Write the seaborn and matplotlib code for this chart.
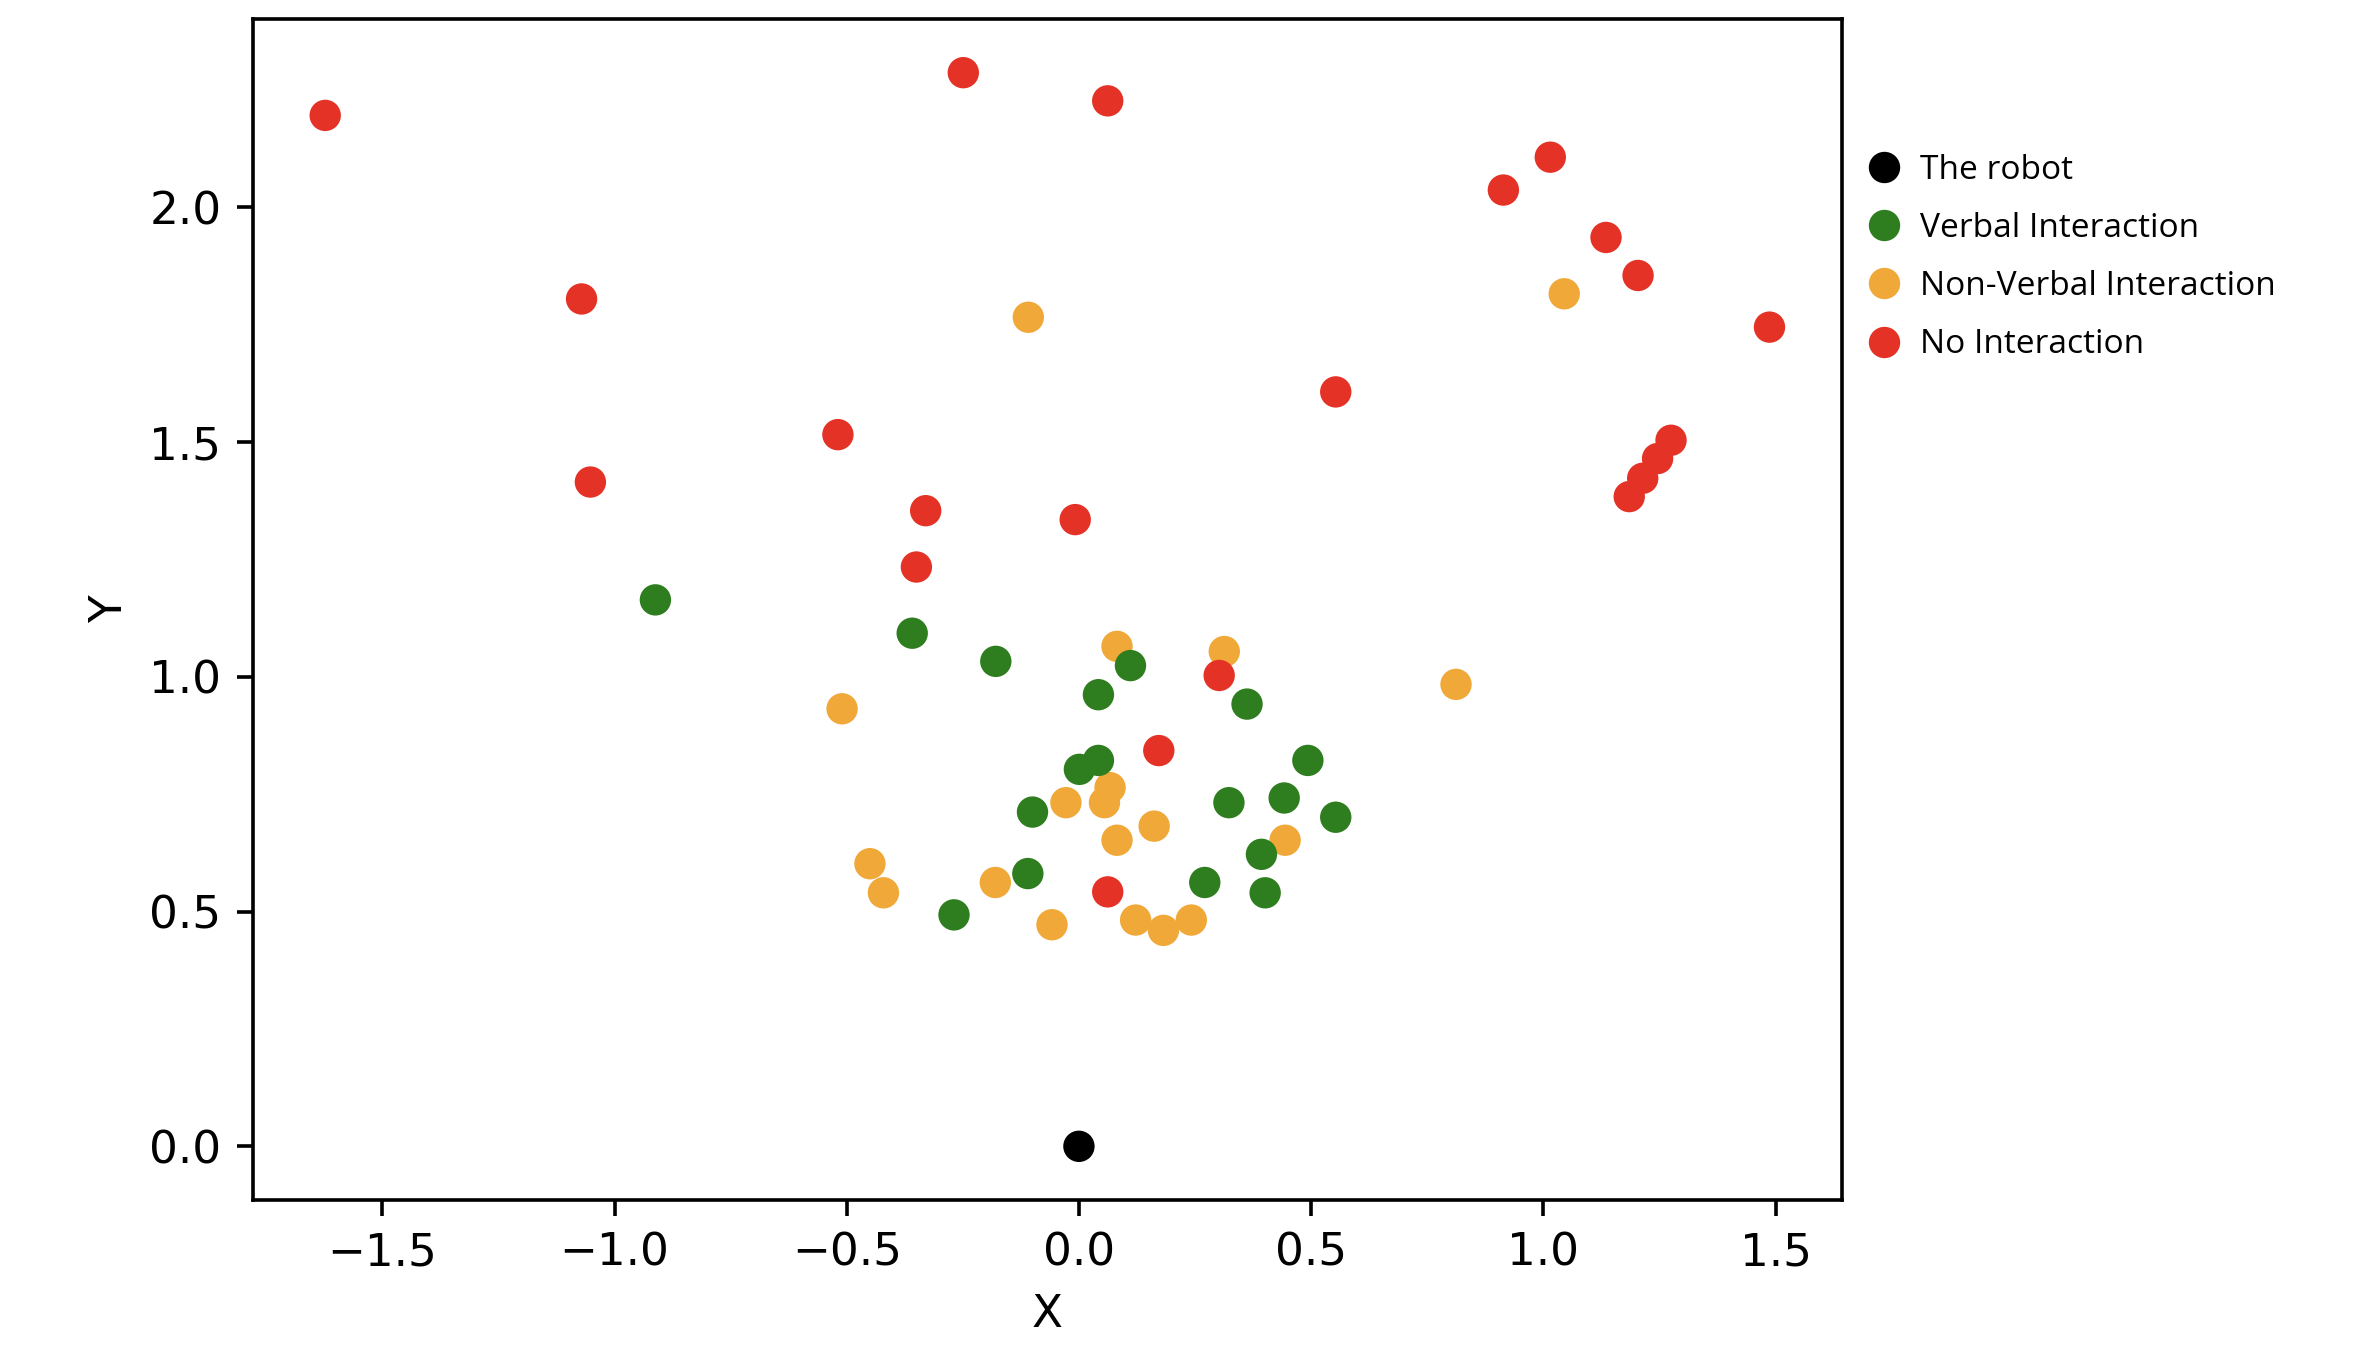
import matplotlib
matplotlib.use("Agg")
import matplotlib.pyplot as plt
import seaborn as sns
import pandas as pd

# ---- data ----
robot_x = [0.0]
robot_y = [0.0]

verbal_x = [-0.912, -0.359, -0.179, 0.111, 0.042, 0.362, 0.042, 0.001, 0.493,
            0.323, 0.442, 0.553, -0.100, 0.393, -0.110, 0.271, 0.401, -0.269]
verbal_y = [1.164, 1.093, 1.033, 1.024, 0.962, 0.942, 0.822, 0.803, 0.822,
            0.732, 0.742, 0.701, 0.712, 0.622, 0.581, 0.562, 0.540, 0.493]

nonverbal_x = [-0.109, 1.045, 0.812, 0.082, 0.313, -0.510, -0.028, 0.067, 0.055,
               0.162, 0.082, 0.444, -0.450, -0.421, -0.180, -0.058, 0.122, 0.182, 0.242]
nonverbal_y = [1.766, 1.816, 0.984, 1.065, 1.054, 0.932, 0.732, 0.764, 0.732,
               0.682, 0.652, 0.652, 0.602, 0.540, 0.562, 0.472, 0.482, 0.460, 0.482]

nointer_x = [-1.623, -0.249, 0.062, -1.071, -1.052, -0.519, -0.330, -0.350, -0.008,
             0.553, 0.914, 1.015, 1.135, 1.204, 1.487, 1.275, 1.246, 1.214, 1.185,
             0.302, 0.172, 0.062]
nointer_y = [2.196, 2.287, 2.227, 1.805, 1.415, 1.516, 1.354, 1.234, 1.335,
             1.607, 2.037, 2.107, 1.936, 1.855, 1.745, 1.504, 1.465, 1.423, 1.384,
             1.003, 0.843, 0.542]

groups = ["The robot", "Verbal Interaction", "Non-Verbal Interaction", "No Interaction"]
colors = ["#000000", "#2E7D1F", "#F0A838", "#E53226"]

df = pd.concat([
    pd.DataFrame({"X": robot_x, "Y": robot_y, "group": groups[0]}),
    pd.DataFrame({"X": nonverbal_x, "Y": nonverbal_y, "group": groups[2]}),
    pd.DataFrame({"X": verbal_x, "Y": verbal_y, "group": groups[1]}),
    pd.DataFrame({"X": nointer_x, "Y": nointer_y, "group": groups[3]}),
], ignore_index=True)

DPI = 326
fig = plt.figure(figsize=(2364 / DPI, 1358 / DPI), dpi=DPI)
ax = fig.add_axes([253 / 2364, 1 - 1200 / 1358, (1841.7 - 253) / 2364, (1200 - 19) / 1358])

sns.scatterplot(data=df, x="X", y="Y", hue="group", hue_order=groups,
                palette=dict(zip(groups, colors)), s=48, linewidth=0, ax=ax)

sns.move_legend(ax, "upper left", bbox_to_anchor=(0.9947, 0.9056), frameon=False,
                title=None, prop={"family": "Open Sans", "size": 7.4},
                handlelength=1.6, handletextpad=0.3, labelspacing=0.75,
                borderaxespad=0.3)

fig.savefig("out.png", dpi=DPI)
